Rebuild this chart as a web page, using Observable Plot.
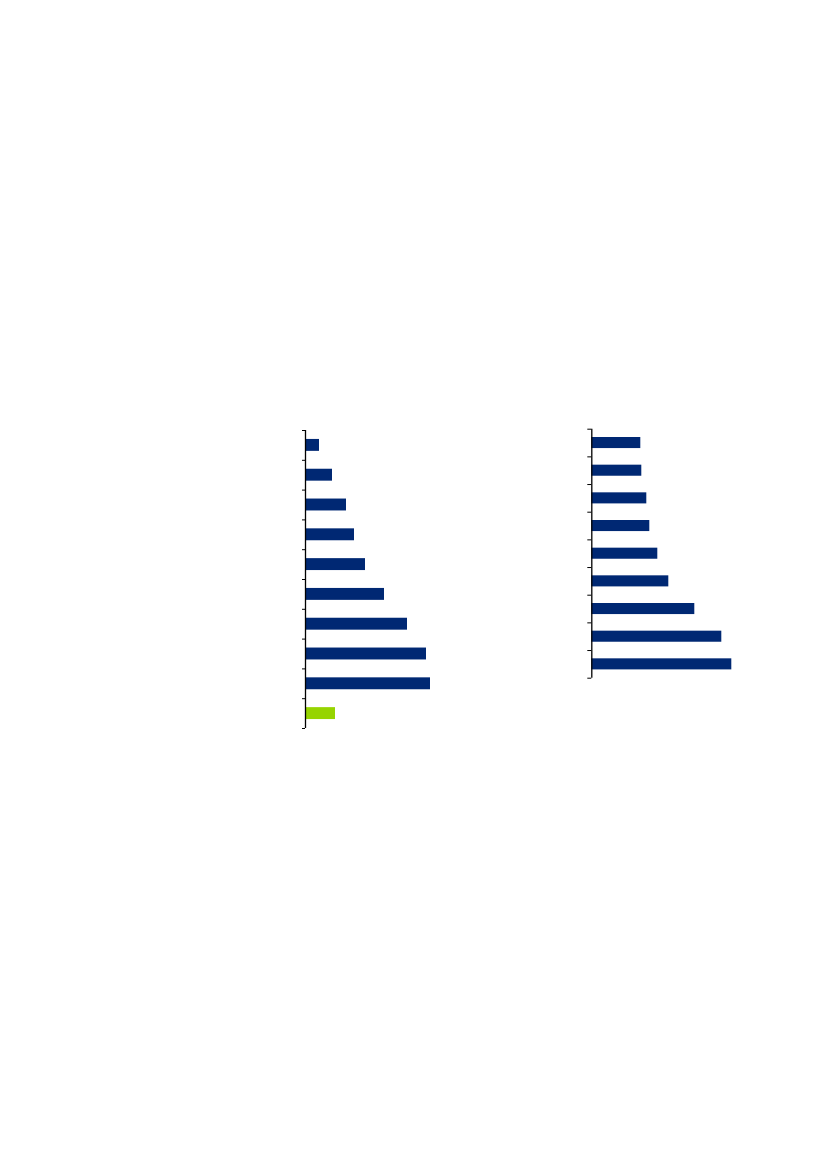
<!DOCTYPE html>
<html>
<head>
<meta charset="utf-8">
<script src="https://cdn.jsdelivr.net/npm/d3@7"></script>
<script src="https://cdn.jsdelivr.net/npm/@observablehq/plot@0.6"></script>
<style>
  html, body { margin: 0; padding: 0; background: #ffffff; }
  #page { position: relative; width: 827px; height: 1169px; background: #ffffff; }
  #left, #right { position: absolute; }
  #left { left: 280px; top: 420px; }
  #right { left: 570px; top: 420px; }
</style>
</head>
<body>
<div id="page">
  <div id="left"></div>
  <div id="right"></div>
</div>
<script>
// Left panel: categories (unlabelled), values, highlight flag
const leftCategories = ["1", "2", "3", "4", "5", "6", "7", "8", "9", "10"];
const leftValues = [14, 27, 41, 49, 60, 79, 102, 121, 125, 30];
const leftHighlight = [false, false, false, false, false, false, false, false, false, true];

// Right panel
const rightCategories = ["1", "2", "3", "4", "5", "6", "7", "8", "9"];
const rightValues = [49, 50, 55, 58, 66, 77, 103, 130, 140];

const NAVY = "#002873";
const GREEN = "#96d400";

function panel(categories, values, highlight, opts) {
  const n = categories.length;
  const data = categories.map((c, i) => ({cat: c, i, value: values[i], hi: highlight ? highlight[i] : false}));
  return Plot.plot({
    width: opts.width,
    height: opts.height,
    marginLeft: opts.marginLeft,
    marginRight: opts.marginRight,
    marginTop: opts.marginTop,
    marginBottom: opts.marginBottom,
    style: {background: "transparent", overflow: "visible"},
    x: {domain: [0, 150], axis: null},
    y: {domain: [0, n], reverse: true, axis: null},
    marks: [
      Plot.rectX(data, {
        x1: 0,
        x2: "value",
        y1: d => d.i + 0.3,
        y2: d => d.i + 0.7,
        fill: d => d.hi ? GREEN : NAVY
      }),
      Plot.axisY(d3.range(n + 1), {
        anchor: "left",
        tickSize: opts.tickSize,
        tickFormat: () => "",
        stroke: "#000",
        strokeWidth: 1
      }),
      Plot.ruleX([0], {stroke: "#000", strokeWidth: 1.3})
    ]
  });
}

document.getElementById("left").appendChild(panel(leftCategories, leftValues, leftHighlight, {
  width: 200, height: 320, marginLeft: 25, marginRight: 25, marginTop: 10, marginBottom: 12, tickSize: 3
}));

document.getElementById("right").appendChild(panel(rightCategories, rightValues, null, {
  width: 200, height: 270, marginLeft: 21.3, marginRight: 28.7, marginTop: 8.7, marginBottom: 12.3, tickSize: 4
}));
</script>
</body>
</html>
